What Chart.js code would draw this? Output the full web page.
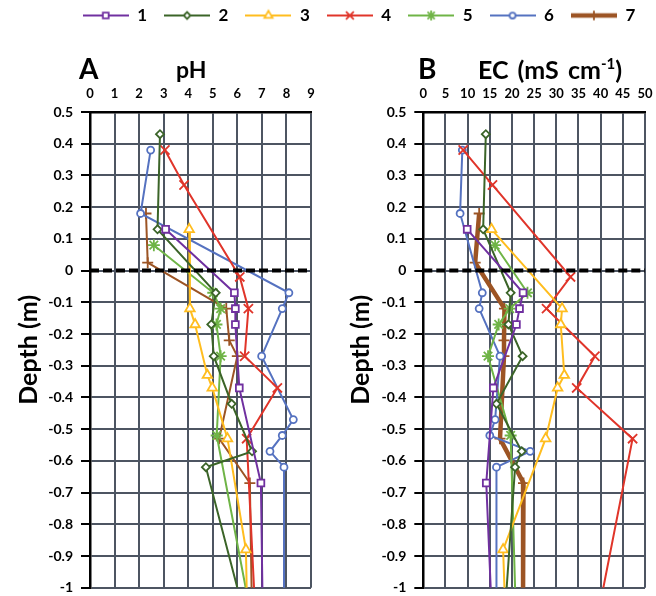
<!DOCTYPE html>
<html>
<head>
<meta charset="utf-8">
<script src="https://cdn.jsdelivr.net/npm/chart.js"></script>
<style>
  html, body { margin: 0; padding: 0; background: #fff; }
  body { width: 656px; height: 596px; position: relative; overflow: hidden; font-family: Lato, "Liberation Sans", sans-serif; }
  canvas { position: absolute; }
  .lbl { position: absolute; font-weight: bold; color: #000; line-height: 1; white-space: nowrap; }
  sup { font-size: 0.6em; vertical-align: 0; position: relative; top: -0.65em; }
</style>
</head>
<body>
<canvas id="legend" width="656" height="120" style="left:0;top:-10px"></canvas>
<canvas id="chartA" width="328" height="596" style="left:0;top:0"></canvas>
<canvas id="chartB" width="328" height="596" style="left:328px;top:0"></canvas>
<div class="lbl" style="left:79px;top:54px;font-size:28px">A</div>
<div class="lbl" style="left:176px;top:58px;font-size:23px">pH</div>
<div class="lbl" style="left:418px;top:54px;font-size:28px">B</div>
<div class="lbl" style="left:478px;top:57px;font-size:25px;word-spacing:3px">EC (mS cm<sup>-1</sup>)</div>
<script>
// ---- data (depth in m) ----
const seriesNames = ['1', '2', '3', '4', '5', '6', '7'];

const depthS1 = [0.13, -0.07, -0.12, -0.17, -0.37, -0.67, -1.0];
const phS1    = [3.08, 5.88, 5.92, 5.92, 6.08, 6.96, 7.02];
const ecS1    = [9.9, 22.5, 21.7, 21.0, 15.8, 14.2, 15.2];

const depthS2 = [0.43, 0.13, -0.07, -0.17, -0.27, -0.42, -0.57, -0.62, -1.0];
const phS2    = [2.85, 2.75, 5.12, 4.94, 5.04, 5.77, 6.6, 4.72, 6.0];
const ecS2    = [14.1, 13.5, 19.7, 19.2, 22.4, 16.5, 22.2, 20.7, 18.8];

const depthS3 = [0.13, -0.12, -0.17, -0.33, -0.37, -0.53, -0.88, -1.0];
const phS3    = [4.04, 4.07, 4.28, 4.78, 4.98, 5.6, 6.35, 6.38];
const ecS3    = [15.4, 31.3, 31.0, 31.8, 30.3, 27.6, 18.0, 18.3];

const depthS4 = [0.38, 0.27, -0.02, -0.12, -0.27, -0.37, -0.53, -1.0];
const phS4    = [3.05, 3.83, 6.1, 6.45, 6.3, 7.63, 6.38, 6.68];
const ecS4    = [9.0, 15.6, 33.2, 27.8, 38.7, 34.6, 47.2, 40.6];

const depthS5 = [0.08, -0.07, -0.12, -0.17, -0.27, -0.52, -1.0];
const phS5    = [2.6, 5.02, 5.32, 5.15, 5.32, 5.16, 6.34];
const ecS5    = [16.2, 23.5, 19.5, 17.0, 14.6, 19.7, 20.7];

const depthS6 = [0.38, 0.18, -0.07, -0.12, -0.27, -0.47, -0.52, -0.57, -0.62, -1.0];
const phS6    = [2.47, 2.06, 8.1, 7.83, 6.99, 8.28, 7.83, 7.33, 7.9, 7.9];
const ecS6    = [8.8, 8.3, 13.3, 12.6, 17.3, 16.2, 15.0, 24.1, 16.5, 16.5];

const depthS7 = [0.18, 0.025, -0.12, -0.22, -0.27, -0.53, -0.67, -1.0];
const phS7    = [2.28, 2.35, 5.55, 5.67, 6.0, 5.26, 6.51, 6.58];
const ecS7    = [12.6, 11.7, 18.3, 18.2, 18.2, 17.3, 22.6, 22.5];

const phTicks = [0, 9];      // axis range, step 1
const ecTicks = [0, 50];     // axis range, step 5
const depthRange = [-1, 0.5];
const surfaceDepth = 0;      // dashed ground-surface line

// ---- styles ----
const GRID = '#4d5562';
const styles = [
  { color: '#7030a0', pointStyle: 'rect',     radius: 4.8, fill: '#ffffff' },
  { color: '#3b6428', pointStyle: 'rectRot',  radius: 4.0, fill: '#ffffff' },
  { color: '#ffbd1f', pointStyle: 'triangle', radius: 5.5, fill: '#ffffff' },
  { color: '#e0352a', pointStyle: 'crossRot', radius: 6.5, fill: '#ffffff' },
  { color: '#6fb446', pointStyle: 'star',     radius: 6,   fill: '#ffffff' },
  { color: '#5572c0', pointStyle: 'circle',   radius: 3.5, fill: '#ffffff' },
  { color: '#9c5424', pointStyle: 'cross',    radius: 5.5, fill: '#ffffff' }
];

const depths = [depthS1, depthS2, depthS3, depthS4, depthS5, depthS6, depthS7];
const phVals = [phS1, phS2, phS3, phS4, phS5, phS6, phS7];
const ecVals = [ecS1, ecS2, ecS3, ecS4, ecS5, ecS6, ecS7];

Chart.defaults.font.family = 'Lato, "Liberation Sans", sans-serif';
Chart.defaults.color = '#000';

function buildDatasets(values, xMax, thickLast) {
  const ds = values.map((vals, i) => {
    const st = styles[i];
    const dep = depths[i];
    return {
      label: seriesNames[i],
      data: vals.map((v, j) => ({ x: v, y: dep[j] })),
      showLine: true,
      borderColor: st.color,
      backgroundColor: st.color,
      borderWidth: (thickLast && i === 6) ? 4.5 : 2,
      pointStyle: st.pointStyle,
      pointRadius: (c) => (dep[c.dataIndex] <= depthRange[0] ? 0 : st.radius),
      pointBorderWidth: 1.8,
      pointBorderColor: st.color,
      pointBackgroundColor: st.fill,
      tension: 0,
      clip: 6,
      order: 1
    };
  });
  ds.push({
    label: 'surface',
    data: [{ x: 0, y: surfaceDepth }, { x: xMax, y: surfaceDepth }],
    showLine: true,
    borderColor: '#000',
    borderWidth: 4,
    borderDash: [9, 4],
    pointRadius: 0,
    order: 0
  });
  return ds;
}

function makeOptions(range, step, yWidth, rightPad, titlePad) {
  return {
    responsive: false,
    animation: false,
    events: [],
    layout: { padding: { left: 0, right: rightPad, top: 0, bottom: 7 } },
    plugins: { legend: { display: false }, tooltip: { enabled: false } },
    scales: {
      x: {
        type: 'linear',
        position: 'top',
        min: range[0], max: range[1],
        ticks: { stepSize: step, font: { size: 13, weight: 'bold' }, padding: 10, maxRotation: 0, autoSkip: false, color: '#000' },
        grid: { color: GRID, lineWidth: 2, drawTicks: false },
        border: { display: true, color: '#000', width: 2.5 },
        afterFit: (s) => { s.height = 112; s.paddingLeft = 0; s.paddingRight = 0; }
      },
      y: {
        type: 'linear',
        position: 'left',
        min: depthRange[0], max: depthRange[1],
        ticks: {
          stepSize: 0.1, font: { size: 14, weight: 'bold' }, padding: 8, autoSkip: false, color: '#000',
          callback: (v) => { const r = Math.round(v * 10) / 10; return r === 0 ? '0' : String(r); }
        },
        grid: { color: GRID, lineWidth: 2, drawTicks: true, tickLength: 9, tickColor: '#000', tickWidth: 2 },
        border: { display: true, color: '#000', width: 2.5 },
        title: { display: true, text: 'Depth (m)', font: { size: 25, weight: 'bold' }, color: '#000', padding: { top: titlePad, bottom: 0 } },
        afterFit: (s) => { s.width = yWidth; s.paddingTop = 0; s.paddingBottom = 0; }
      }
    }
  };
}

new Chart(document.getElementById('chartA'), {
  type: 'scatter',
  data: { datasets: buildDatasets(phVals, phTicks[1], false) },
  options: makeOptions(phTicks, 1, 90, 17, 14)
});

new Chart(document.getElementById('chartB'), {
  type: 'scatter',
  data: { datasets: buildDatasets(ecVals, ecTicks[1], true) },
  options: makeOptions(ecTicks, 5, 95.3, 11, 18)
});

// ---- legend (drawn by Chart.js legend plugin) ----
function legendIcon(i) {
  const st = styles[i];
  const c = document.createElement('canvas');
  c.width = 46; c.height = 16;
  const ctx = c.getContext('2d');
  ctx.strokeStyle = st.color;
  ctx.lineWidth = i === 6 ? 4.5 : 2;
  ctx.beginPath(); ctx.moveTo(0, 8); ctx.lineTo(46, 8); ctx.stroke();
  ctx.lineWidth = 1.8;
  ctx.fillStyle = st.fill;
  if (Chart.helpers && Chart.helpers.drawPoint) {
    Chart.helpers.drawPoint(ctx, { pointStyle: st.pointStyle, radius: st.radius * 0.85, borderWidth: 1.8, rotation: 0 }, 23, 8);
  }
  return c;
}
const icons = seriesNames.map((_, i) => legendIcon(i));

new Chart(document.getElementById('legend'), {
  type: 'scatter',
  data: { datasets: seriesNames.map((n, i) => ({ label: n, data: [], borderColor: styles[i].color })) },
  options: {
    responsive: false,
    animation: false,
    events: [],
    layout: { padding: { left: 62, right: 0, top: 0, bottom: 0 } },
    scales: { x: { display: false }, y: { display: false } },
    plugins: {
      tooltip: { enabled: false },
      legend: {
        display: true,
        position: 'top',
        align: 'center',
        labels: {
          usePointStyle: true,
          pointStyleWidth: 46,
          boxHeight: 16,
          padding: 17,
          font: { size: 17, weight: 'bold' },
          color: '#000',
          generateLabels: () => seriesNames.map((n, i) => ({
            text: n,
            pointStyle: icons[i],
            fillStyle: styles[i].color,
            strokeStyle: styles[i].color,
            lineWidth: 0,
            hidden: false,
            datasetIndex: i,
            fontColor: '#000'
          }))
        }
      }
    }
  }
});
</script>
</body>
</html>
